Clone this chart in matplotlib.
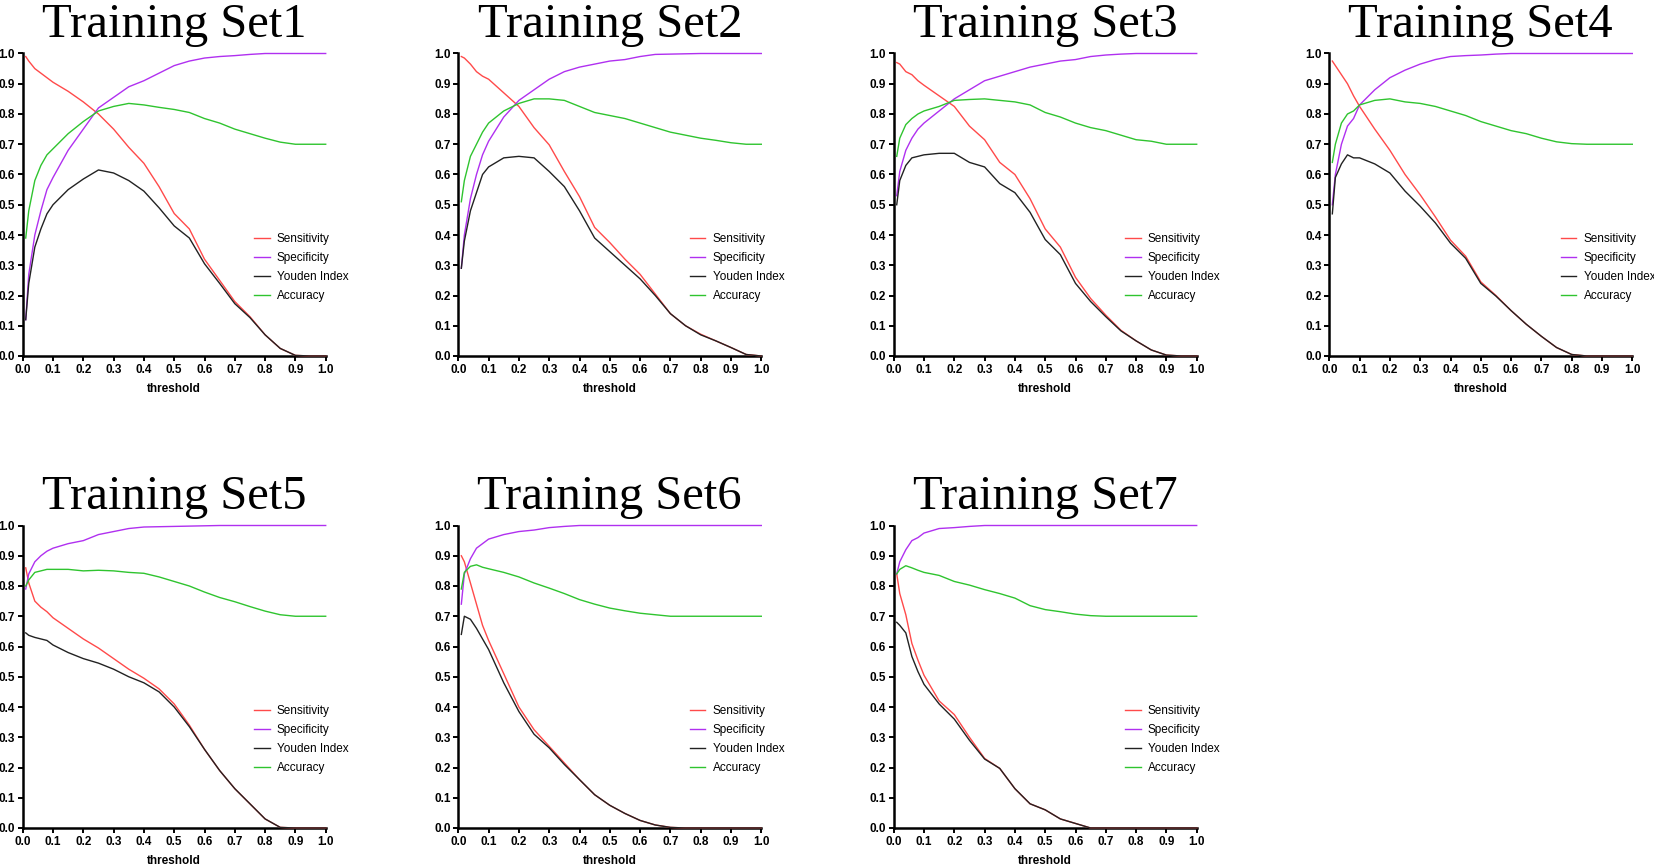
import numpy as np
import matplotlib
matplotlib.use("Agg")
import matplotlib.pyplot as plt

# threshold grid
THRESH = [0.01, 0.02, 0.04, 0.06, 0.08, 0.1, 0.15, 0.2, 0.25, 0.3, 0.35, 0.4,
          0.45, 0.5, 0.55, 0.6, 0.65, 0.7, 0.75, 0.8, 0.85, 0.9, 0.95, 1.0]

TITLES = ["Training Set1", "Training Set2", "Training Set3", "Training Set4",
          "Training Set5", "Training Set6", "Training Set7"]

SERIES = ["Sensitivity", "Specificity", "Youden Index", "Accuracy"]
COLORS = ["#ff4a4a", "#b030f0", "#222222", "#2fc42f"]

SENS = [
  [0.99, 0.975, 0.95, 0.935, 0.92, 0.905, 0.875, 0.84, 0.80, 0.75, 0.69, 0.637,
   0.56, 0.471, 0.42, 0.32, 0.25, 0.18, 0.13, 0.07, 0.025, 0.002, 0.0, 0.0],
  [0.99, 0.985, 0.965, 0.94, 0.925, 0.915, 0.87, 0.825, 0.755, 0.698, 0.61, 0.527,
   0.425, 0.375, 0.32, 0.27, 0.205, 0.14, 0.10, 0.072, 0.05, 0.028, 0.005, 0.0],
  [0.97, 0.965, 0.94, 0.93, 0.91, 0.895, 0.86, 0.825, 0.76, 0.715, 0.64, 0.60,
   0.52, 0.42, 0.36, 0.26, 0.19, 0.135, 0.085, 0.05, 0.02, 0.003, 0.0, 0.0],
  [0.975, 0.96, 0.93, 0.90, 0.86, 0.825, 0.75, 0.68, 0.60, 0.533, 0.46, 0.383,
   0.33, 0.245, 0.20, 0.15, 0.105, 0.065, 0.028, 0.005, 0.0, 0.0, 0.0, 0.0],
  [0.86, 0.81, 0.75, 0.73, 0.715, 0.695, 0.66, 0.625, 0.595, 0.56, 0.525, 0.495,
   0.46, 0.41, 0.34, 0.26, 0.19, 0.13, 0.08, 0.03, 0.002, 0.0, 0.0, 0.0],
  [0.90, 0.88, 0.81, 0.74, 0.67, 0.62, 0.51, 0.40, 0.325, 0.27, 0.215, 0.16,
   0.11, 0.075, 0.048, 0.025, 0.01, 0.002, 0.0, 0.0, 0.0, 0.0, 0.0, 0.0],
  [0.84, 0.775, 0.705, 0.61, 0.555, 0.505, 0.42, 0.375, 0.30, 0.23, 0.197, 0.13,
   0.08, 0.06, 0.03, 0.015, 0.0, 0.0, 0.0, 0.0, 0.0, 0.0, 0.0, 0.0],
]

SPEC = [
  [0.12, 0.27, 0.40, 0.48, 0.55, 0.59, 0.68, 0.75, 0.82, 0.855, 0.89, 0.91,
   0.935, 0.96, 0.975, 0.985, 0.99, 0.993, 0.997, 1.0, 1.0, 1.0, 1.0, 1.0],
  [0.29, 0.40, 0.52, 0.60, 0.665, 0.71, 0.79, 0.845, 0.88, 0.915, 0.94, 0.955,
   0.965, 0.975, 0.98, 0.99, 0.997, 0.998, 0.999, 1.0, 1.0, 1.0, 1.0, 1.0],
  [0.53, 0.61, 0.68, 0.72, 0.75, 0.77, 0.81, 0.85, 0.88, 0.91, 0.925, 0.94,
   0.955, 0.965, 0.975, 0.98, 0.99, 0.995, 0.998, 1.0, 1.0, 1.0, 1.0, 1.0],
  [0.50, 0.60, 0.70, 0.76, 0.785, 0.83, 0.88, 0.92, 0.945, 0.965, 0.98, 0.99,
   0.993, 0.995, 0.998, 1.0, 1.0, 1.0, 1.0, 1.0, 1.0, 1.0, 1.0, 1.0],
  [0.79, 0.84, 0.88, 0.90, 0.915, 0.925, 0.94, 0.95, 0.97, 0.98, 0.99, 0.995,
   0.996, 0.997, 0.998, 0.999, 1.0, 1.0, 1.0, 1.0, 1.0, 1.0, 1.0, 1.0],
  [0.74, 0.84, 0.89, 0.925, 0.94, 0.955, 0.97, 0.98, 0.985, 0.993, 0.997, 1.0,
   1.0, 1.0, 1.0, 1.0, 1.0, 1.0, 1.0, 1.0, 1.0, 1.0, 1.0, 1.0],
  [0.84, 0.88, 0.92, 0.95, 0.96, 0.975, 0.99, 0.993, 0.997, 1.0, 1.0, 1.0,
   1.0, 1.0, 1.0, 1.0, 1.0, 1.0, 1.0, 1.0, 1.0, 1.0, 1.0, 1.0],
]

YOUDEN = [
  [0.12, 0.24, 0.36, 0.42, 0.47, 0.50, 0.55, 0.585, 0.615, 0.605, 0.58, 0.545,
   0.49, 0.43, 0.39, 0.305, 0.24, 0.173, 0.127, 0.07, 0.025, 0.002, 0.0, 0.0],
  [0.29, 0.38, 0.48, 0.54, 0.60, 0.625, 0.655, 0.66, 0.655, 0.61, 0.56, 0.48,
   0.39, 0.345, 0.30, 0.255, 0.20, 0.14, 0.10, 0.07, 0.05, 0.028, 0.005, 0.0],
  [0.50, 0.58, 0.63, 0.655, 0.66, 0.665, 0.67, 0.67, 0.64, 0.625, 0.57, 0.54,
   0.475, 0.385, 0.335, 0.24, 0.18, 0.13, 0.083, 0.05, 0.02, 0.003, 0.0, 0.0],
  [0.47, 0.59, 0.635, 0.665, 0.655, 0.655, 0.635, 0.605, 0.545, 0.495, 0.44, 0.373,
   0.323, 0.24, 0.198, 0.15, 0.105, 0.065, 0.028, 0.005, 0.0, 0.0, 0.0, 0.0],
  [0.645, 0.637, 0.63, 0.625, 0.62, 0.605, 0.58, 0.56, 0.545, 0.525, 0.50, 0.48,
   0.45, 0.40, 0.335, 0.26, 0.19, 0.13, 0.08, 0.03, 0.002, 0.0, 0.0, 0.0],
  [0.64, 0.70, 0.69, 0.66, 0.625, 0.59, 0.48, 0.385, 0.31, 0.265, 0.21, 0.16,
   0.11, 0.075, 0.048, 0.025, 0.01, 0.002, 0.0, 0.0, 0.0, 0.0, 0.0, 0.0],
  [0.68, 0.67, 0.645, 0.567, 0.517, 0.475, 0.41, 0.36, 0.29, 0.228, 0.197, 0.13,
   0.08, 0.06, 0.03, 0.015, 0.0, 0.0, 0.0, 0.0, 0.0, 0.0, 0.0, 0.0],
]

ACC = [
  [0.39, 0.48, 0.58, 0.63, 0.665, 0.685, 0.735, 0.775, 0.81, 0.825, 0.835, 0.83,
   0.822, 0.815, 0.805, 0.785, 0.77, 0.75, 0.735, 0.72, 0.707, 0.70, 0.70, 0.70],
  [0.51, 0.58, 0.66, 0.70, 0.74, 0.77, 0.81, 0.835, 0.85, 0.85, 0.845, 0.825,
   0.805, 0.795, 0.785, 0.77, 0.755, 0.74, 0.73, 0.72, 0.713, 0.705, 0.70, 0.70],
  [0.66, 0.72, 0.765, 0.785, 0.80, 0.81, 0.825, 0.845, 0.848, 0.85, 0.845, 0.84,
   0.83, 0.805, 0.79, 0.77, 0.755, 0.745, 0.73, 0.715, 0.71, 0.70, 0.70, 0.70],
  [0.64, 0.70, 0.77, 0.80, 0.81, 0.83, 0.845, 0.85, 0.84, 0.835, 0.825, 0.81,
   0.795, 0.775, 0.76, 0.745, 0.735, 0.72, 0.708, 0.702, 0.70, 0.70, 0.70, 0.70],
  [0.80, 0.82, 0.845, 0.85, 0.855, 0.855, 0.855, 0.85, 0.852, 0.85, 0.845, 0.842,
   0.83, 0.815, 0.80, 0.78, 0.762, 0.748, 0.732, 0.717, 0.705, 0.70, 0.70, 0.70],
  [0.79, 0.845, 0.865, 0.87, 0.862, 0.857, 0.845, 0.83, 0.81, 0.793, 0.775, 0.755,
   0.74, 0.727, 0.718, 0.71, 0.705, 0.70, 0.70, 0.70, 0.70, 0.70, 0.70, 0.70],
  [0.84, 0.855, 0.867, 0.86, 0.852, 0.845, 0.835, 0.815, 0.803, 0.788, 0.775, 0.76,
   0.735, 0.722, 0.715, 0.707, 0.702, 0.70, 0.70, 0.70, 0.70, 0.70, 0.70, 0.70],
]

W, H = 1654, 866
COL_LEFT = [22.7, 458.3, 893.7, 1329.3]   # px
ROW_BOTTOM = [356.0, 828.0]                # px from top
AX_W, AX_H = 303.0, 302.5


def main():
  plt.rcParams['font.family'] = ['Liberation Sans', 'DejaVu Sans']
  fig = plt.figure(figsize=(W / 100, H / 100), dpi=100)
  x = np.array(THRESH)

  for i, title in enumerate(TITLES):
    r, c = divmod(i, 4)
    rect = [COL_LEFT[c] / W, 1 - ROW_BOTTOM[r] / H, AX_W / W, AX_H / H]
    ax = fig.add_axes(rect)
    for name, ys, col in zip(SERIES, [SENS[i], SPEC[i], YOUDEN[i], ACC[i]], COLORS):
      ax.plot(x, ys, color=col, lw=1.0, label=name, clip_on=False, zorder=3)

    ax.set_xlim(0, 1)
    ax.set_ylim(0, 1)
    ax.set_xticks(np.arange(0, 1.01, 0.1))
    ax.set_yticks(np.arange(0, 1.01, 0.1))
    ax.xaxis.set_major_formatter(matplotlib.ticker.FormatStrFormatter('%.1f'))
    ax.yaxis.set_major_formatter(matplotlib.ticker.FormatStrFormatter('%.1f'))
    for s in ['top', 'right']:
      ax.spines[s].set_visible(False)
    for s in ['left', 'bottom']:
      ax.spines[s].set_linewidth(1.8)
      ax.spines[s].set_zorder(2)
    ax.tick_params(direction='out', length=3.5, width=1.4, labelsize=8.5, pad=2)
    for lb in ax.get_xticklabels() + ax.get_yticklabels():
      lb.set_fontweight('bold')
    ax.set_xlabel("threshold", fontsize=8.5, fontweight='bold', labelpad=5)
    ax.set_title(title, fontsize=35, family='Liberation Serif', pad=12)
    ax.legend(loc='upper left', bbox_to_anchor=(0.765, 0.405), frameon=False,
              fontsize=8.5, handlelength=1.3, handletextpad=0.6,
              labelspacing=0.58, borderpad=0, borderaxespad=0)

  fig.savefig("out.png", dpi=100)


if __name__ == "__main__":
  main()
